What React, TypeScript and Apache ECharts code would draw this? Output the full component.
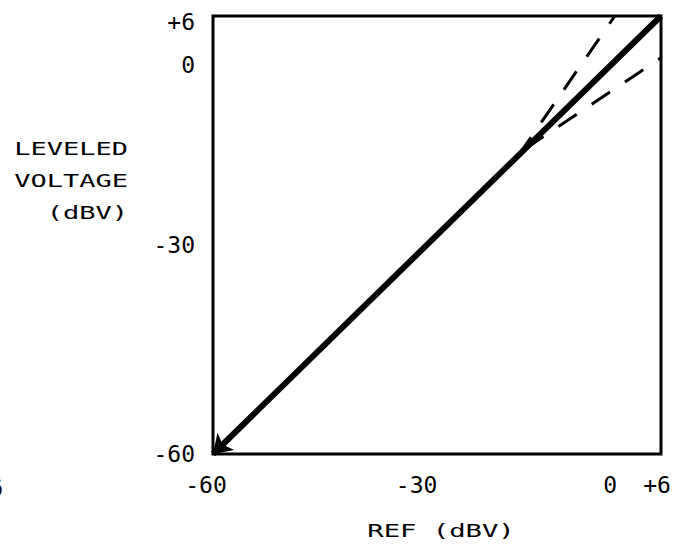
import React, { useEffect, useRef } from "react";
import * as echarts from "echarts";

// axis range and tick labels
const axisMin = -60;
const axisMax = 6;
const tickValues = [-60, -30, 0, 6];
const tickLabels = ["-60", "-30", "0", "+6"];

// main response line (REF dBV, LEVELED dBV)
const mainLine = [
  [-60, -60],
  [6, 6],
];
// dashed deviation envelopes near the top
const upperDashed = [
  [-15, -15],
  [-0.8, 6],
];
const lowerDashed = [
  [-14, -14],
  [6, -0.3],
];

const xTitle = "REF (dBV)";
const yTitle = "LEVELED\nVOLTAGE\n(dBV)";

const MONO = "'DejaVu Sans Mono', monospace";

export default function App() {
  const ref = useRef<HTMLDivElement>(null);
  useEffect(() => {
    if (!ref.current) return;
    const chart = echarts.init(ref.current, null, { renderer: "svg" });
    const labelFor = (v: number) => {
      const i = tickValues.indexOf(v);
      return i >= 0 ? tickLabels[i] : "";
    };
    const base = { fontFamily: MONO, fontSize: 23, color: "#000" };
    chart.setOption({
      animation: false,
      backgroundColor: "#fff",
      grid: {
        left: 213,
        right: 23,
        top: 16,
        bottom: 96,
        show: true,
        borderColor: "#000",
        borderWidth: 3,
        backgroundColor: "transparent",
      },
      xAxis: {
        type: "value",
        min: axisMin,
        max: axisMax,
        interval: 6,
        axisLine: { show: false },
        axisTick: { show: false },
        splitLine: { show: false },
        axisLabel: {
          ...base,
          margin: 19,
          formatter: (v: number) => {
            const t = labelFor(v);
            if (!t) return "";
            if (v === -60) return "{l7|" + t + "}";
            if (v === 0) return "{l10|" + t + "}";
            if (v === 6) return "{l4|" + t + "}";
            return t;
          },
          rich: {
            l7: { ...base, padding: [0, 14, 0, 0] },
            l10: { ...base, padding: [0, 20, 0, 0] },
            l4: { ...base, padding: [0, 8, 0, 0] },
          },
        },
      },
      yAxis: {
        type: "value",
        min: axisMin,
        max: axisMax,
        interval: 6,
        axisLine: { show: false },
        axisTick: { show: false },
        splitLine: { show: false },
        axisLabel: {
          ...base,
          margin: 18,
          formatter: (v: number) => {
            const t = labelFor(v);
            if (!t) return "";
            if (v === 6) return "{d6|" + t + "}";
            if (v === 0) return "{d9|" + t + "}";
            if (v === -30) return "{u10|" + t + "}";
            return t;
          },
          rich: {
            d6: { ...base, padding: [12, 0, 0, 0] },
            d9: { ...base, padding: [18, 0, 0, 0] },
            u10: { ...base, padding: [0, 0, 20, 0] },
          },
        },
      },
      series: [
        {
          type: "lines",
          coordinateSystem: "cartesian2d",
          polyline: false,
          symbol: ["arrow", "none"],
          symbolSize: 18,
          silent: true,
          lineStyle: { color: "#000", width: 6, opacity: 1, type: "solid" },
          data: [{ coords: mainLine }],
          z: 3,
        },
        {
          type: "line",
          data: upperDashed,
          showSymbol: false,
          symbol: "none",
          lineStyle: { color: "#000", width: 3, type: [22, 18] },
          z: 2,
        },
        {
          type: "line",
          data: lowerDashed,
          showSymbol: false,
          symbol: "none",
          lineStyle: { color: "#000", width: 3, type: [22, 18] },
          z: 2,
        },
      ],
      graphic: [
        {
          type: "text",
          x: 128,
          y: 181,
          scaleX: 1.5,
          style: {
            text: yTitle,
            fontFamily: MONO,
            fontSize: 18,
            lineHeight: 32,
            fill: "#000",
            align: "right",
            verticalAlign: "middle",
          },
        },
        {
          type: "text",
          x: 441,
          y: 531,
          scaleX: 1.6,
          style: {
            text: xTitle,
            fontFamily: MONO,
            fontSize: 17,
            fill: "#000",
            align: "center",
            verticalAlign: "middle",
          },
        },
        {
          type: "text",
          x: 3,
          y: 488,
          style: {
            text: "6",
            fontFamily: MONO,
            fontSize: 23,
            fill: "#000",
            align: "right",
            verticalAlign: "middle",
          },
        },
      ],
    });
    return () => chart.dispose();
  }, []);
  return (
    <div
      ref={ref}
      style={{ position: "fixed", left: 0, top: 0, width: 684, height: 550, background: "#fff" }}
    />
  );
}
